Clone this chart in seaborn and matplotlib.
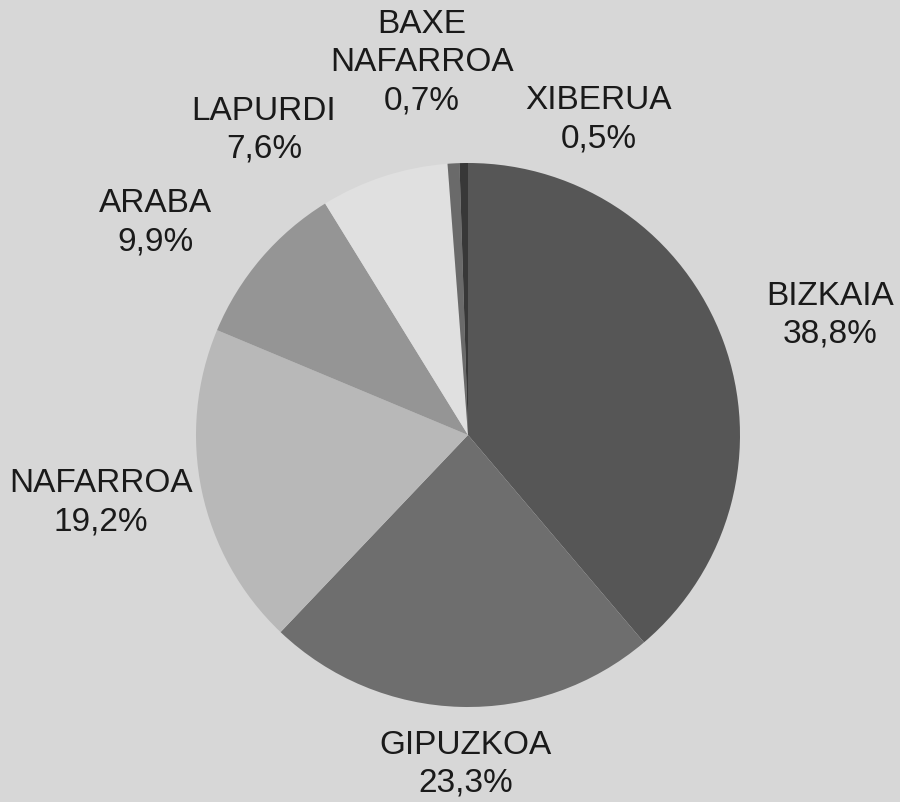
import numpy as np
import seaborn as sns
import matplotlib.pyplot as plt

# shares by territory, clockwise from 12 o'clock
territories = ['BIZKAIA', 'GIPUZKOA', 'NAFARROA', 'ARABA', 'LAPURDI', 'BAXE\nNAFARROA', 'XIBERUA']
shares = [38.8, 23.3, 19.2, 9.9, 7.6, 0.7, 0.5]

sns.set_style('white')
plt.rcParams['font.family'] = ['Liberation Sans', 'DejaVu Sans']

bg = '#d7d7d7'
greys = ['#565656', '#6e6e6e', '#b8b8b8', '#959595', '#e0e0e0', '#6a6a6a', '#383838']

# label centres, in pie-radius units relative to the centre
label_pos = [(1.33, 0.44), (-0.01, -1.21), (-1.35, -0.25), (-1.15, 0.78),
             (-0.75, 1.12), (-0.17, 1.37), (0.48, 1.16)]

fig = plt.figure(figsize=(9, 8.02), dpi=100, facecolor=bg)
ax = fig.add_axes([0, 0, 1, 1])
ax.set_facecolor(bg)

ax.pie(shares, colors=greys, startangle=90, counterclock=False,
       radius=1, center=(0, 0), wedgeprops=dict(linewidth=0))

for name, val, (x, y) in zip(territories, shares, label_pos):
    ax.text(x, y, f'{name}\n{val:.1f}%'.replace('.', ','), ha='center', va='center',
            fontsize=24, color='#1a1a1a', linespacing=1.3)

# map the axes so the pie sits where it does in the page
r = 272
cx, cy = 468, 435
ax.set_xlim(-cx / r, (900 - cx) / r)
ax.set_ylim(-(802 - cy) / r, cy / r)
ax.set_aspect('equal')
ax.axis('off')

fig.savefig('out.png', dpi=100, facecolor=bg)
